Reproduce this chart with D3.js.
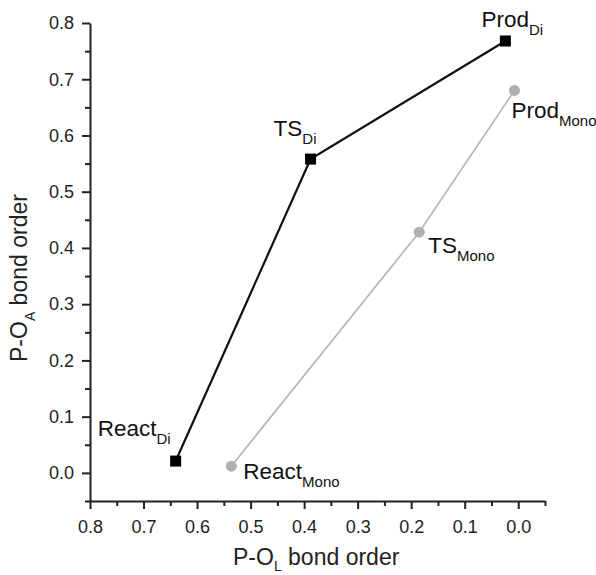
<!DOCTYPE html>
<html>
<head>
<meta charset="utf-8">
<script src="https://cdn.jsdelivr.net/npm/d3@7"></script>
<style>
  body { margin: 0; background: #fff; }
  svg { font-family: Arial, "Liberation Sans", Helvetica, sans-serif; }
</style>
</head>
<body>
<svg id="chart"></svg>
<script>
// bond orders
const states = ["React", "TS", "Prod"];
const diX = [0.64, 0.388, 0.024];
const diY = [0.021, 0.558, 0.768];
const monoX = [0.536, 0.185, 0.007];
const monoY = [0.012, 0.428, 0.68];

const xTicks = [0.8, 0.7, 0.6, 0.5, 0.4, 0.3, 0.2, 0.1, 0.0];
const yTicks = [0.0, 0.1, 0.2, 0.3, 0.4, 0.5, 0.6, 0.7, 0.8];

const width = 596, height = 575;
const svg = d3.select("#chart").attr("width", width).attr("height", height);

const x = d3.scaleLinear().domain([0.8, -0.05]).range([90, 545]);
const y = d3.scaleLinear().domain([-0.05, 0.8]).range([501, 23]);

const minorX = d3.range(0.75, -0.06, -0.1).map(v => +v.toFixed(2));
const minorY = d3.range(-0.05, 0.8, 0.1).map(v => +v.toFixed(2));

// axes
const gx = svg.append("g").attr("transform", `translate(0,${y(-0.05)})`);
gx.call(d3.axisBottom(x).tickValues(xTicks).tickSize(8).tickSizeOuter(0)
  .tickPadding(11).tickFormat(d3.format(".1f")));
gx.append("g").call(d3.axisBottom(x).tickValues(minorX).tickSize(5).tickFormat(""))
  .select(".domain").remove();

const gy = svg.append("g").attr("transform", `translate(${x(0.8)},0)`);
gy.call(d3.axisLeft(y).tickValues(yTicks).tickSize(8).tickSizeOuter(0)
  .tickPadding(8).tickFormat(d3.format(".1f")));
gy.append("g").call(d3.axisLeft(y).tickValues(minorY).tickSize(5).tickFormat(""))
  .select(".domain").remove();

svg.selectAll(".domain").attr("stroke", "#222").attr("stroke-width", 2);
svg.selectAll(".tick line").attr("stroke", "#222").attr("stroke-width", 2);
svg.selectAll(".tick text").attr("font-size", 18).attr("fill", "#222")
  .attr("font-family", "Arial, 'Liberation Sans', sans-serif");

// axis titles
const xt = svg.append("text").attr("x", 233).attr("y", 565)
  .attr("font-size", 23).attr("fill", "#222");
xt.append("tspan").text("P-O");
xt.append("tspan").attr("font-size", 14).attr("dy", 6).text("L");
xt.append("tspan").attr("dy", -6).text(" bond order");

const yt = svg.append("text").attr("transform", "translate(27,362) rotate(-90)")
  .attr("font-size", 23).attr("fill", "#222");
yt.append("tspan").text("P-O");
yt.append("tspan").attr("font-size", 14).attr("dy", 8).text("A");
yt.append("tspan").attr("dy", -8).text(" bond order");

// series
const di = states.map((s, i) => ({ s, x: diX[i], y: diY[i] }));
const mono = states.map((s, i) => ({ s, x: monoX[i], y: monoY[i] }));
const line = d3.line().x(d => x(d.x)).y(d => y(d.y));

svg.append("path").datum(mono).attr("d", line)
  .attr("fill", "none").attr("stroke", "#b4b4b4").attr("stroke-width", 1.6);
svg.append("path").datum(di).attr("d", line)
  .attr("fill", "none").attr("stroke", "#111").attr("stroke-width", 2.2);

svg.selectAll(".mono").data(mono).join("circle")
  .attr("cx", d => x(d.x)).attr("cy", d => y(d.y)).attr("r", 5.5)
  .attr("fill", "#b0b0b0");
svg.selectAll(".di").data(di).join("rect")
  .attr("x", d => x(d.x) - 5.5).attr("y", d => y(d.y) - 5.5)
  .attr("width", 11).attr("height", 11).attr("fill", "#000");

// point labels
const diOff = [[-78, -25], [-37, -23], [-24, -14]];
const monoOff = [[12, 13], [9, 21], [-3, 28]];

function label(d, off, sub) {
  const t = svg.append("text")
    .attr("x", x(d.x) + off[0]).attr("y", y(d.y) + off[1])
    .attr("font-size", 22.5).attr("fill", "#111");
  t.append("tspan").text(d.s);
  t.append("tspan").attr("font-size", 15).attr("dy", 8).text(sub);
}
di.forEach((d, i) => label(d, diOff[i], "Di"));
mono.forEach((d, i) => label(d, monoOff[i], "Mono"));
</script>
</body>
</html>
